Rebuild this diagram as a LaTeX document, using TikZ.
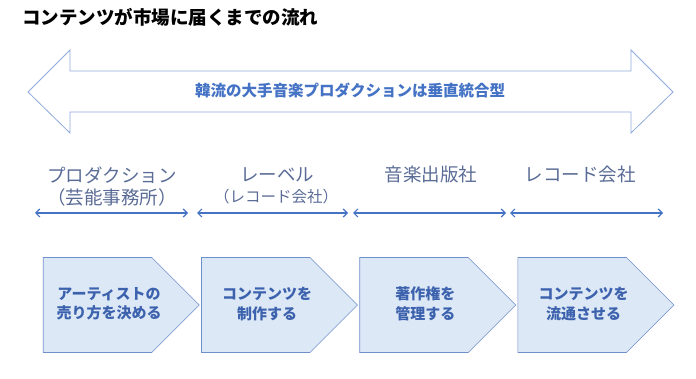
\documentclass[tikz,border=0pt]{standalone}
\usepackage{fontspec}
\setmainfont{Noto Sans CJK JP}
\usetikzlibrary{arrows.meta,positioning,shapes.symbols}
\definecolor{bandline}{HTML}{8FAADC}
\definecolor{bandtext}{HTML}{4472C4}
\definecolor{lbltext}{HTML}{5A6C96}
\definecolor{stepfill}{HTML}{DDE8F6}
\definecolor{stepline}{HTML}{6F8FCB}
\definecolor{steptext}{HTML}{3C62AE}
\tikzset{
  stepbox/.style={signal,signal to=east,signal from=nowhere,signal pointer angle=90,
    draw=stepline,fill=stepfill,line width=0.6pt,minimum width=156pt,minimum height=95pt,
    inner sep=0pt},
  steplbl/.style={align=center,text=steptext,inner sep=0pt,font=\fontsize{15}{19.5}\selectfont\bfseries},
  role/.style={text=lbltext,font=\fontsize{18.5}{22}\selectfont,inner sep=0pt},
  subrole/.style={text=lbltext,font=\fontsize{15.5}{18}\selectfont,inner sep=0pt},
  span/.style={{Straight Barb[length=4pt,width=8pt]}-{Straight Barb[length=4pt,width=8pt]},
    draw=bandtext,line width=1.2pt}
}
\begin{document}
\begin{tikzpicture}[x=1pt,y=-1pt]
  \useasboundingbox (0,0) rectangle (696,379);
  \node[anchor=west,inner sep=0pt,font=\fontsize{18.5}{22}\selectfont\bfseries] (title) at (22,17) {コンテンツが市場に届くまでの流れ};

  % banner arrow
  \draw[draw=bandline,fill=white,line width=0.8pt] (28,92) -- (70,50) -- (70,71) -- (631,71) -- (631,50)
    -- (673,92) -- (631,133) -- (631,112) -- (70,112) -- (70,133) -- cycle;
  \node[text=bandtext,font=\fontsize{15.5}{18}\selectfont\bfseries] (band) at (350,90) {韓流の大手音楽プロダクションは垂直統合型};

  % roles
  \node[role] (prod) at (112,175) {プロダクション};
  \node[role] (prodsub) at (112,197) {（芸能事務所）};
  \node[role] (label) at (277,175) {レーベル};
  \node[subrole] (labelsub) at (276,197) {（レコード会社）};
  \node[role] (pub) at (431,174) {音楽出版社};
  \node[role] (record) at (580,174) {レコード会社};

  \coordinate (prodL) at (35,213);   \coordinate (prodR) at (188,213);
  \coordinate (labelL) at (197,213); \coordinate (labelR) at (348,213);
  \coordinate (pubL) at (353,213);   \coordinate (pubR) at (506,213);
  \coordinate (recL) at (510,213);   \coordinate (recR) at (663,213);
  \draw[span] (prodL) -- (prodR);
  \draw[span] (labelL) -- (labelR);
  \draw[span] (pubL) -- (pubR);
  \draw[span] (recL) -- (recR);

  % steps
  \node[stepbox] (artist) at (97.5,305) {};
  \node[stepbox,right=1.5pt of artist] (make) {};
  \node[stepbox,right=1.5pt of make] (rights) {};
  \node[stepbox,right=1.5pt of rights] (dist) {};
  \node[steplbl] (artisttxt) at ([xshift=11.5pt,yshift=1pt]artist.center) {アーティストの\\売り方を決める};
  \node[steplbl] (maketxt) at ([xshift=11.5pt,yshift=1pt]make.center) {コンテンツを\\制作する};
  \node[steplbl] (rightstxt) at ([xshift=11.5pt,yshift=1pt]rights.center) {著作権を\\管理する};
  \node[steplbl] (disttxt) at ([xshift=11.5pt,yshift=1pt]dist.center) {コンテンツを\\流通させる};
\end{tikzpicture}
\end{document}
